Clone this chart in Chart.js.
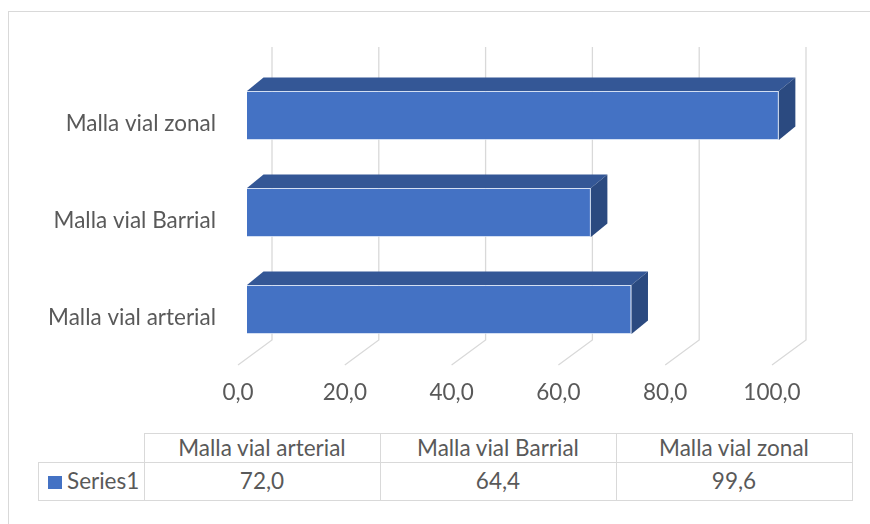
<!DOCTYPE html>
<html>
<head>
    <meta charset="UTF-8">
    <title>Malla vial</title>
    <style>
        body { margin: 0; background: #fff; font-family: Lato, "Open Sans", sans-serif; }
        #frame { position: absolute; left: 8px; top: 11px; width: 900px; height: 600px;
                 border-left: 1px solid #d9d9d9; border-top: 1px solid #d9d9d9; }
        #wrap { position: absolute; left: 0; top: 0; width: 870px; height: 420px; }
        #table { position: absolute; left: 38px; top: 433px; border-collapse: collapse;
                 color: #595959; font-size: 22.5px; }
        #table td, #table th { border: 1px solid #d9d9d9; text-align: center; font-weight: normal; padding: 0; line-height: 1; }
        #table th { height: 28px; }
        #table td { height: 37px; }
        #table .empty { border: none; }
        #table .key { display: inline-block; width: 14px; height: 13px; background: #4472C4; margin-right: 5px; vertical-align: 0px; }
    </style>
</head>
<body>
    <div id="frame"></div>
    <div id="wrap"><canvas id="myChart" width="870" height="420"></canvas></div>
    <table id="table"></table>

    <script src="https://cdn.jsdelivr.net/npm/chart.js@4.4.1/dist/chart.umd.min.js"></script>
    <script>
        var categories = ['Malla vial arterial', 'Malla vial Barrial', 'Malla vial zonal'];
        var seriesName = 'Series1';
        var series1 = [72.0, 64.4, 99.6];
        var tickValues = [0, 20, 40, 60, 80, 100];

        function fmt(v) { return v.toFixed(1).replace('.', ','); }

        // data table under the chart
        var head = '<tr><th class="empty" style="width:105px"></th>';
        categories.forEach(function(c) { head += '<th style="width:235px">' + c + '</th>'; });
        var row = '<tr><td style="text-align:left;padding-left:9px"><span class="key"></span>' + seriesName + '</td>';
        series1.forEach(function(v) { row += '<td>' + fmt(v) + '</td>'; });
        document.getElementById('table').innerHTML = head + '</tr>' + row + '</tr>';

        // back wall offset, floor diagonal, bar depth
        var wallDx = 25, wallTop = 47, wallBottom = 340;
        var floorDx = -34, floorDy = 25;
        var depthX = 16.5, depthY = -13.5;

        var box3d = {
            id: 'box3d',
            beforeDatasetsDraw: function(chart) {
                var ctx = chart.ctx, xs = chart.scales.x;
                ctx.save();
                ctx.strokeStyle = '#d9d9d9';
                ctx.lineWidth = 1.3;
                tickValues.forEach(function(v) {
                    var xb = xs.getPixelForValue(v) + wallDx;
                    ctx.beginPath();
                    ctx.moveTo(xb, wallTop);
                    ctx.lineTo(xb, wallBottom);
                    ctx.lineTo(xb + floorDx, wallBottom + floorDy);
                    ctx.stroke();
                });
                ctx.restore();
            },
            afterDatasetsDraw: function(chart) {
                var ctx = chart.ctx;
                ctx.save();
                chart.getDatasetMeta(0).data.forEach(function(bar) {
                    var l = bar.base, r = bar.x, t = bar.y - bar.height / 2, b = bar.y + bar.height / 2;
                    ctx.fillStyle = '#345796';
                    ctx.beginPath();
                    ctx.moveTo(l, t); ctx.lineTo(r, t);
                    ctx.lineTo(r + depthX, t + depthY); ctx.lineTo(l + depthX, t + depthY);
                    ctx.closePath(); ctx.fill();
                    ctx.fillStyle = '#2B4A80';
                    ctx.beginPath();
                    ctx.moveTo(r, t); ctx.lineTo(r + depthX, t + depthY);
                    ctx.lineTo(r + depthX, b + depthY); ctx.lineTo(r, b);
                    ctx.closePath(); ctx.fill();
                });
                ctx.restore();
            }
        };

        new Chart('myChart', {
            type: 'bar',
            data: {
                labels: categories,
                datasets: [{
                    label: seriesName,
                    data: series1,
                    backgroundColor: '#4472C4',
                    borderColor: 'rgba(200,215,240,0.8)',
                    borderWidth: 1,
                    categoryPercentage: 1,
                    barPercentage: 0.505
                }]
            },
            options: {
                indexAxis: 'y',
                responsive: false,
                animation: false,
                layout: { padding: { top: 67, right: 89, left: 0, bottom: 0 } },
                plugins: { legend: { display: false }, tooltip: { enabled: false } },
                scales: {
                    x: {
                        min: 0, max: 100,
                        afterBuildTicks: function(s) { s.ticks = tickValues.map(function(v) { return { value: v }; }); },
                        afterFit: function(s) { s.height = 62; },
                        grid: { display: false, drawTicks: false },
                        border: { display: false },
                        ticks: {
                            padding: 21,
                            labelOffset: -9,
                            color: '#595959',
                            font: { family: 'Lato', size: 22.5 },
                            callback: function(v) { return fmt(v); }
                        }
                    },
                    y: {
                        reverse: true,
                        afterFit: function(s) { s.width = 247; },
                        grid: { display: false, drawTicks: false },
                        border: { display: false },
                        ticks: {
                            padding: 31,
                            labelOffset: 8,
                            color: '#595959',
                            font: { family: 'Lato', size: 22.5 }
                        }
                    }
                }
            },
            plugins: [box3d]
        });
    </script>
</body>
</html>
